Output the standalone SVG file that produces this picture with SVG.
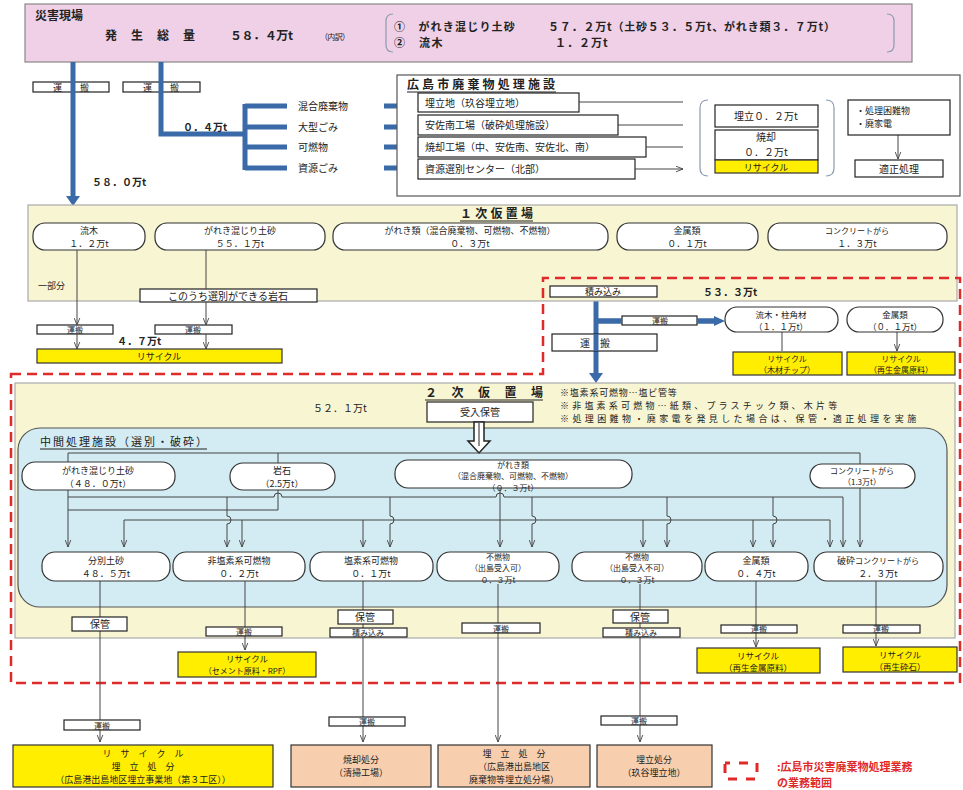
<svg xmlns="http://www.w3.org/2000/svg" width="963" height="790" viewBox="0 0 963 790">
<defs>
<style>
text{font-family:"Noto Sans CJK JP","Noto Sans CJK SC",sans-serif;font-size:10px;fill:#222}
.c{text-anchor:middle}
.b{font-weight:bold}
.s8{font-size:8px}
.s85{font-size:8.5px}
.s9{font-size:9px}
.s11{font-size:11px}
.s12{font-size:12px}
.box{fill:#fff;stroke:#222;stroke-width:1.2}
.yb{fill:#ffee00;stroke:#333;stroke-width:1.2}
.sb{fill:#f8cfae;stroke:#333;stroke-width:1.2}
.nd{fill:#fff;stroke:#333;stroke-width:1.2}
.ln{fill:none;stroke:#444;stroke-width:1}
.bl{fill:none;stroke:#3a6aa8;stroke-width:5}
.bh{fill:#3a6aa8}
.ul{stroke:#222;stroke-width:1}
.red{fill:#e02a2a}
</style>
<marker id="v" viewBox="0 0 10 10" refX="10" refY="5" markerWidth="7" markerHeight="7" orient="auto" markerUnits="userSpaceOnUse">
<path d="M0,1 L10,5 L0,9" fill="none" stroke="#444" stroke-width="1.3"/>
</marker>
</defs>
<rect width="963" height="790" fill="#fff"/>

<!-- header -->
<g id="disaster-site">
<rect x="25" y="4" width="887" height="58" fill="#efd0e6" stroke="#888" stroke-width="1.2"/>
<text x="35" y="20" class="s12 b">災害現場</text>
<text x="105" y="40" class="s12 b" textLength="90">発　生　総　量</text>
<text x="230" y="40" class="s12 b" textLength="63">５８．４万t</text>
<text x="320" y="40" class="s8" textLength="30">（内訳）</text>
<path d="M393,14 Q386,14 386,21 L386,45 Q386,52 393,52" fill="none" stroke="#8a9bb0" stroke-width="1.2"/>
<text class="s11 b"><tspan x="394" y="31" letter-spacing="1.2">①　がれき混じり土砂</tspan><tspan x="548" y="31" letter-spacing="0.8">５７．２万t（土砂５３．５万t、がれき類３．７万t）</tspan><tspan x="394" y="47" letter-spacing="1.5">②　流木</tspan><tspan x="555" y="47" letter-spacing="1">１．２万t</tspan></text>
<path d="M887,14 Q894,14 894,21 L894,45 Q894,52 887,52" fill="none" stroke="#8a9bb0" stroke-width="1.2"/>
</g>

<!-- transport boxes top -->
<g id="transport-top1"><rect x="33" y="82" width="76" height="10" class="box"/><text x="71" y="90.5" class="c s9">運　　搬</text></g>
<g id="transport-top2"><rect x="123" y="82" width="77" height="10" class="box"/><text x="161" y="90.5" class="c s9">運　　搬</text></g>

<g id="connectors-blue">
<path d="M73,62 L73,197" class="bl"/>
<polygon points="66,196 80,196 73,206" class="bh"/>
<path d="M161,62 L161,134 L245,134" class="bl"/>
<path d="M245,104 L245,170" class="bl"/>
<path d="M245,106 L287,106 M245,127 L287,127 M245,147 L287,147 M245,168 L287,168" class="bl" stroke-width="4"/>
<path d="M384,106 L410,106 M384,127 L410,127 M384,147 L410,147 M384,168 L410,168" class="bl" stroke-width="3"/>
<polygon points="408,102 417,106 408,110" class="bh"/>
<polygon points="408,123 417,127 408,131" class="bh"/>
<polygon points="408,143 417,147 408,151" class="bh"/>
<polygon points="408,164 417,168 408,172" class="bh"/>
<path d="M596,297 L596,374" class="bl"/>
<polygon points="589,373 603,373 596,383" class="bh"/>
<path d="M596,321 L716,321" class="bl" stroke-width="4"/>
<polygon points="714,316 725,321 714,326" class="bh"/>
</g>

<text x="183" y="131" class="b">０．４万t</text>
<text x="92" y="186" class="b">５８．０万t</text>
<g id="waste-labels">
<text x="298" y="110">混合廃棄物</text>
<text x="298" y="131">大型ごみ</text>
<text x="298" y="151">可燃物</text>
<text x="298" y="172">資源ごみ</text>
</g>

<!-- city facilities -->
<g id="city-facilities">
<rect x="397" y="75" width="563" height="121" fill="#fff" stroke="#555" stroke-width="1.2"/>
<text x="407" y="89" class="s12 b" textLength="148">広島市廃棄物処理施設</text>
<line x1="407" y1="92" x2="556" y2="92" class="ul"/>
</g>
<g id="fac-landfill"><rect x="418" y="93" width="161" height="19" class="box"/><text x="425" y="106.5">埋立地（玖谷埋立地）</text></g>
<g id="fac-asaminami"><rect x="418" y="115" width="200" height="20" class="box"/><text x="425" y="129">安佐南工場（破砕処理施設）</text></g>
<g id="fac-incinerator"><rect x="418" y="137" width="228" height="20" class="box"/><text x="425" y="151">焼却工場（中、安佐南、安佐北、南）</text></g>
<g id="fac-sorting"><rect x="418" y="159" width="217" height="20" class="box"/><text x="425" y="173">資源選別センター（北部）</text></g>
<g id="connectors-facility">
<path d="M579,102 L683,102 M618,125 L683,125 M646,147 L683,147 M635,169 L683,169" class="ln" marker-end="url(#v)"/>
<path d="M898,135 L898,159" class="ln" marker-end="url(#v)"/>
</g>
<path d="M708,100 Q700,100 700,108 L700,168 Q700,176 708,176" fill="none" stroke="#8a9bb0" stroke-width="1.2"/>
<path d="M826,100 Q834,100 834,108 L834,168 Q834,176 826,176" fill="none" stroke="#8a9bb0" stroke-width="1.2"/>
<g id="res-landfill"><rect x="715" y="105" width="103" height="22" class="box"/><text x="766" y="120" class="c">埋立０．２万t</text></g>
<g id="res-incin"><rect x="715" y="130" width="103" height="30" class="box"/><text class="c"><tspan x="766" y="141">焼却</tspan><tspan x="766" y="155.6">０．２万t</tspan></text></g>
<g id="res-recycle"><rect x="715" y="160" width="103" height="13" class="yb"/><text x="766" y="170.5" class="c s9">リサイクル</text></g>
<g id="hard-waste"><rect x="848" y="100" width="102" height="35" class="box"/><text class="s9"><tspan x="856" y="113.5">・処理困難物</tspan><tspan x="856" y="126.7">・廃家電</tspan></text></g>
<g id="proper-treatment"><rect x="855" y="160" width="88" height="17" class="box"/><text x="899" y="172.5" class="c">適正処理</text></g>

<!-- primary yard -->
<g id="primary-yard">
<rect x="28" y="205" width="929" height="96" fill="#f8f5d2" stroke="#aaa" stroke-width="1.2"/>
<text x="460" y="218" class="s12 b" textLength="73">１次仮置場</text>
<line x1="460" y1="221" x2="533" y2="221" class="ul"/>
<text x="38" y="289" class="s9">一部分</text>
</g>
<g id="p-wood"><rect x="33" y="223" width="112" height="27" rx="12" class="nd"/><text class="c s9"><tspan x="89" y="234">流木</tspan><tspan x="89" y="247.1">１．２万t</tspan></text></g>
<g id="p-soil"><rect x="155" y="223" width="170" height="27" rx="12" class="nd"/><text class="c s9"><tspan x="240" y="234">がれき混じり土砂</tspan><tspan x="240" y="247.1">５５．１万t</tspan></text></g>
<g id="p-debris"><rect x="333" y="223" width="275" height="27" rx="12" class="nd"/><text class="c s9"><tspan x="470" y="234">がれき類（混合廃棄物、可燃物、不燃物）</tspan><tspan x="470" y="247.1">０．３万t</tspan></text></g>
<g id="p-metal"><rect x="617" y="223" width="141" height="27" rx="12" class="nd"/><text class="c s9"><tspan x="687" y="234">金属類</tspan><tspan x="687" y="247.1">０．１万t</tspan></text></g>
<g id="p-concrete"><rect x="768" y="223" width="179" height="27" rx="12" class="nd"/><text class="c s9"><tspan x="857" y="234" class="s8">コンクリートがら</tspan><tspan x="857" y="247.1">１．３万t</tspan></text></g>
<g id="p-rock"><rect x="140" y="289" width="177" height="13" class="box"/><text x="228" y="299.5" class="c">このうち選別ができる岩石</text></g>
<g id="p-transport1"><rect x="37" y="325" width="76" height="9" class="box"/><text x="75" y="333" class="c s8">運搬</text></g>
<g id="p-transport2"><rect x="155" y="325" width="77" height="9" class="box"/><text x="193" y="333" class="c s8">運搬</text></g>
<text x="117" y="345" class="b">４．７万t</text>
<g id="p-recycle"><rect x="37" y="349" width="245" height="14" class="yb"/><text x="159" y="360" class="c s9">リサイクル</text></g>

<g id="connectors-primary">
<path d="M77,250 L77,325" class="ln" marker-end="url(#v)"/>
<path d="M77,334 L77,349" class="ln" marker-end="url(#v)"/>
<path d="M206,250 L206,289" class="ln"/>
<path d="M206,302 L206,325" class="ln" marker-end="url(#v)"/>
<path d="M206,334 L206,349" class="ln" marker-end="url(#v)"/>
<path d="M782,332 L782,351 M897,332 L897,351" class="ln" marker-end="url(#v)"/>
</g>

<!-- red dashed scope -->
<path d="M11,374 L543,374 L543,278 L960,278 L960,683 L11,683 Z" fill="none" stroke="#e02a2a" stroke-width="2.5" stroke-dasharray="10 6"/>

<g id="load1"><rect x="550" y="286" width="107" height="11" class="box"/><text x="603" y="295" class="c s9">積み込み</text></g>
<text x="703" y="296" class="b">５３．３万t</text>
<g id="transport-mid"><rect x="552" y="334" width="105" height="17" class="box"/><text x="580" y="346.5">運　搬</text></g>
<g id="transport-wood"><rect x="622" y="316" width="75" height="9" class="box"/><text x="660" y="324" class="c s8">運搬</text></g>
<path d="M596,334 L596,351" class="bl"/>
<path d="M596,321 L622,321 M697,321 L716,321" class="bl" stroke-width="4"/>
<g id="wood-timber"><rect x="725" y="307" width="113" height="25" rx="12" class="nd"/><text class="c s85"><tspan x="781" y="317.5">流木・柱角材</tspan><tspan x="781" y="330">（１．１万t）</tspan></text></g>
<g id="metal-a"><rect x="847" y="307" width="96" height="25" rx="12" class="nd"/><text class="c s85"><tspan x="895" y="317.5">金属類</tspan><tspan x="895" y="330">（０．１万t）</tspan></text></g>
<g id="rec-chip"><rect x="733" y="352" width="109" height="23" class="yb"/><text class="c s8"><tspan x="787" y="361.5">リサイクル</tspan><tspan x="787" y="373.2">（木材チップ）</tspan></text></g>
<g id="rec-metal-a"><rect x="847" y="352" width="108" height="23" class="yb"/><text class="c s8"><tspan x="901" y="361.5">リサイクル</tspan><tspan x="901" y="373.2">（再生金属原料）</tspan></text></g>

<!-- secondary yard -->
<g id="secondary-yard">
<rect x="15" y="383" width="940" height="255" fill="#f8f5d2" stroke="#aaa" stroke-width="1.2"/>
<text x="425" y="397" class="s12 b" textLength="118">２　次　仮　置　場</text>
<line x1="425" y1="400" x2="543" y2="400" class="ul"/>
<text x="313" y="412">５２．１万t</text>
<text class="s9"><tspan x="560" y="396" letter-spacing="0.8">※塩素系可燃物…塩ビ管等</tspan><tspan x="560" y="409.1" letter-spacing="3.2">※非塩素系可燃物…紙類、プラスチック類、木片等</tspan><tspan x="560" y="422.2" letter-spacing="3.4">※処理困難物・廃家電を発見した場合は、保管・適正処理を実施</tspan></text>
</g>
<g id="accept-storage"><rect x="427" y="402" width="106" height="20" class="box"/><text x="480" y="416" class="c">受入保管</text></g>

<g id="intermediate">
<rect x="18" y="428" width="929" height="179" rx="22" fill="#d3ecf3" stroke="#555" stroke-width="1.2"/>
<text x="40" y="446" class="s11" textLength="167">中間処理施設（選別・破砕）</text>
<line x1="40" y1="449" x2="207" y2="449" class="ul"/>
</g>
<g id="hollow-arrow">
<polygon points="474,422 484,422 484,441 490,441 479,453 468,441 474,441" fill="#fff" stroke="#222" stroke-width="1.5"/>
<line x1="479" y1="423" x2="479" y2="446" stroke="#222" stroke-width="1"/>
</g>

<g id="connectors-intermediate">
<path d="M68,462 L68,453 L860,453 L860,464 M278,453 L278,463" class="ln"/>
<path d="M68,497 L274,497 A4,4 0 0 1 282,497 L496,497 A4,4 0 0 1 504,497 L843,497" class="ln"/>
<path d="M278,490 L278,510 L68,510" class="ln"/>
<path d="M124,520 L830,520" class="ln"/>
<path d="M68,490 L68,547" class="ln" marker-end="url(#v)"/>
<path d="M124,520 L124,547" class="ln" marker-end="url(#v)"/>
<path d="M227,497 L227,516 A4,4 0 0 1 227,524 L227,547" class="ln" marker-end="url(#v)"/>
<path d="M242,520 L242,547" class="ln" marker-end="url(#v)"/>
<path d="M363,520 L363,547" class="ln" marker-end="url(#v)"/>
<path d="M390,497 L390,516 A4,4 0 0 1 390,524 L390,547" class="ln" marker-end="url(#v)"/>
<path d="M500,488 L500,547" class="ln" marker-end="url(#v)"/>
<path d="M532,497 L532,516 A4,4 0 0 1 532,524 L532,547" class="ln" marker-end="url(#v)"/>
<path d="M643,520 L643,547" class="ln" marker-end="url(#v)"/>
<path d="M667,497 L667,516 A4,4 0 0 1 667,524 L667,547" class="ln" marker-end="url(#v)"/>
<path d="M753,520 L753,547" class="ln" marker-end="url(#v)"/>
<path d="M773,497 L773,516 A4,4 0 0 1 773,524 L773,547" class="ln" marker-end="url(#v)"/>
<path d="M830,520 L830,547" class="ln" marker-end="url(#v)"/>
<path d="M843,497 L843,547" class="ln" marker-end="url(#v)"/>
<path d="M860,488 L860,547" class="ln" marker-end="url(#v)"/>
</g>

<g id="i-soil"><rect x="22" y="462" width="153" height="28" rx="13" class="nd"/><text class="c s9"><tspan x="98" y="473.5">がれき混じり土砂</tspan><tspan x="98" y="486.6">（４８．０万t）</tspan></text></g>
<g id="i-rock"><rect x="230" y="463" width="105" height="27" rx="13" class="nd"/><text class="c s9"><tspan x="282" y="474">岩石</tspan><tspan x="282" y="487.1">（2.5万t）</tspan></text></g>
<g id="i-debris"><rect x="395" y="460" width="237" height="28" rx="13" class="nd"/><text class="c s8"><tspan x="513" y="467.5">がれき類</tspan><tspan x="513" y="479.2">（混合廃棄物、可燃物、不燃物）</tspan><tspan x="513" y="490.9">（０．３万t）</tspan></text></g>
<g id="i-concrete"><rect x="810" y="464" width="105" height="24" rx="12" class="nd"/><text class="c s8"><tspan x="862" y="473.5">コンクリートがら</tspan><tspan x="862" y="485.2">（1.3万t）</tspan></text></g>

<g id="o-soil"><rect x="42" y="552" width="128" height="29" rx="13" class="nd"/><text class="c s9"><tspan x="106" y="563.5">分別土砂</tspan><tspan x="106" y="576.6">４８．５万t</tspan></text></g>
<g id="o-nonchlor"><rect x="173" y="552" width="132" height="29" rx="13" class="nd"/><text class="c s9"><tspan x="239" y="563.5">非塩素系可燃物</tspan><tspan x="239" y="576.6">０．２万t</tspan></text></g>
<g id="o-chlor"><rect x="310" y="552" width="123" height="29" rx="13" class="nd"/><text class="c s9"><tspan x="371" y="563.5">塩素系可燃物</tspan><tspan x="371" y="576.6">０．１万t</tspan></text></g>
<g id="o-incomb-ok"><rect x="437" y="552" width="122" height="29" rx="13" class="nd"/><text class="c s8"><tspan x="498" y="559.5">不燃物</tspan><tspan x="498" y="571.2">（出島受入可）</tspan><tspan x="498" y="582.9">０．３万t</tspan></text></g>
<g id="o-incomb-ng"><rect x="572" y="552" width="130" height="29" rx="13" class="nd"/><text class="c s8"><tspan x="637" y="559.5">不燃物</tspan><tspan x="637" y="571.2">（出島受入不可）</tspan><tspan x="637" y="582.9">０．３万t</tspan></text></g>
<g id="o-metal"><rect x="705" y="552" width="103" height="29" rx="13" class="nd"/><text class="c s9"><tspan x="756" y="563.5">金属類</tspan><tspan x="756" y="576.6">０．４万t</tspan></text></g>
<g id="o-concrete"><rect x="814" y="552" width="129" height="29" rx="13" class="nd"/><text class="c s9"><tspan x="878" y="563.5">破砕<tspan class="s8">コンクリートがら</tspan></tspan><tspan x="878" y="576.6">２．３万t</tspan></text></g>

<g id="connectors-output">
<path d="M100,581 L100,742" class="ln" marker-end="url(#v)"/>
<path d="M245,581 L245,650" class="ln" marker-end="url(#v)"/>
<path d="M363,581 L363,742" class="ln" marker-end="url(#v)"/>
<path d="M498,584 L498,742" class="ln" marker-end="url(#v)"/>
<path d="M640,584 L640,742" class="ln" marker-end="url(#v)"/>
<path d="M756,581 L756,647" class="ln" marker-end="url(#v)"/>
<path d="M876,581 L876,646" class="ln" marker-end="url(#v)"/>
</g>

<g id="st1"><rect x="72" y="617" width="55" height="14" class="box"/><text x="100" y="628" class="c">保管</text></g>
<g id="tr1"><rect x="206" y="627" width="76" height="9" class="box"/><text x="244" y="635" class="c s8">運搬</text></g>
<g id="st2"><rect x="338" y="610" width="55" height="14" class="box"/><text x="365" y="621" class="c">保管</text></g>
<g id="ld2"><rect x="330" y="628" width="77" height="9" class="box"/><text x="368" y="636" class="c s8">積み込み</text></g>
<g id="tr3"><rect x="462" y="623" width="78" height="10" class="box"/><text x="501" y="631.5" class="c s8">運搬</text></g>
<g id="st4"><rect x="613" y="610" width="55" height="13" class="box"/><text x="640" y="620.5" class="c">保管</text></g>
<g id="ld4"><rect x="603" y="628" width="77" height="9" class="box"/><text x="641" y="636" class="c s8">積み込み</text></g>
<g id="tr5"><rect x="721" y="625" width="76" height="8" class="box"/><text x="759" y="632" class="c s8">運搬</text></g>
<g id="tr6"><rect x="843" y="625" width="77" height="8" class="box"/><text x="881" y="632" class="c s8">運搬</text></g>

<g id="rec-cement"><rect x="178" y="652" width="138" height="25" class="yb"/><text class="c s8"><tspan x="247" y="662" class="s85">リサイクル</tspan><tspan x="247" y="674.2">（セメント原料・RPF）</tspan></text></g>
<g id="rec-metal-b"><rect x="697" y="648" width="123" height="25" class="yb"/><text class="c s85"><tspan x="758" y="658.5">リサイクル</tspan><tspan x="758" y="670.9">（再生金属原料）</tspan></text></g>
<g id="rec-stone"><rect x="843" y="647" width="114" height="25" class="yb"/><text class="c s85"><tspan x="900" y="657.5">リサイクル</tspan><tspan x="900" y="669.9">（再生砕石）</tspan></text></g>

<g id="tr-b1"><rect x="64" y="720" width="76" height="10" class="box"/><text x="102" y="728.5" class="c s8">運搬</text></g>
<g id="tr-b2"><rect x="329" y="717" width="76" height="9" class="box"/><text x="367" y="725" class="c s8">運搬</text></g>
<g id="tr-b3"><rect x="601" y="716" width="76" height="9" class="box"/><text x="639" y="724" class="c s8">運搬</text></g>

<g id="final-recycle-landfill"><rect x="13" y="745" width="260" height="42" class="yb"/><text class="c s9"><tspan x="143" y="756.5">リ　サ　イ　ク　ル</tspan><tspan x="143" y="769.6">埋　立　処　分</tspan><tspan x="143" y="782.7">（広島港出島地区埋立事業地（第３工区））</tspan></text></g>
<g id="final-incineration"><rect x="291" y="745" width="140" height="42" class="sb"/><text class="c s9"><tspan x="361" y="762.5">焼却処分</tspan><tspan x="361" y="775.6">（清掃工場）</tspan></text></g>
<g id="final-deshima"><rect x="438" y="745" width="152" height="42" class="sb"/><text class="c s9"><tspan x="514" y="756.5">埋　立　処　分</tspan><tspan x="514" y="769.6">（広島港出島地区</tspan><tspan x="514" y="782.7">廃棄物等埋立処分場）</tspan></text></g>
<g id="final-kuya"><rect x="597" y="745" width="115" height="42" class="sb"/><text class="c s9"><tspan x="654" y="762.5">埋立処分</tspan><tspan x="654" y="775.6">（玖谷埋立地）</tspan></text></g>

<g id="legend">
<rect x="725" y="763" width="32" height="16" fill="none" stroke="#e02a2a" stroke-width="3" stroke-dasharray="9 9" stroke-dashoffset="4"/>
<text class="s11 b red"><tspan x="777" y="771">:広島市災害廃棄物処理業務</tspan><tspan x="777" y="787">の業務範囲</tspan></text>
</g>
</svg>
